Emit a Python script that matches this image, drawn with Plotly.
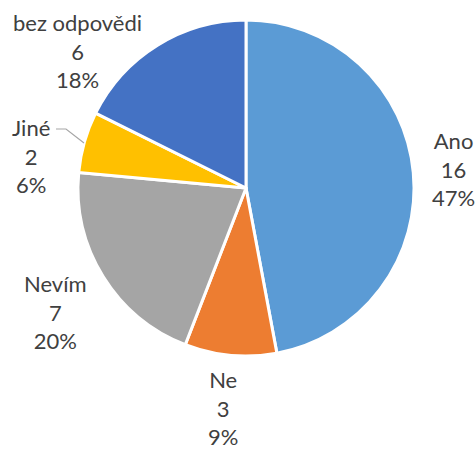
import plotly.graph_objects as go

categories = ["Ano", "Ne", "Nevím", "Jiné", "bez odpovědi"]
values = [16, 3, 7, 2, 6]
percent_labels = ["47%", "9%", "20%", "6%", "18%"]
colors = ["#5B9BD5", "#ED7D31", "#A5A5A5", "#FFC000", "#4472C4"]

W, H = 475, 452
cx, cy, r = 246, 188, 168

fig = go.Figure(go.Pie(
    labels=categories,
    values=values,
    sort=False,
    direction="clockwise",
    rotation=0,
    marker=dict(colors=colors, line=dict(color="white", width=3)),
    textinfo="none",
    hoverinfo="label+value+percent",
    showlegend=False,
    domain=dict(x=[(cx - r) / W, (cx + r) / W], y=[(H - cy - r) / H, (H - cy + r) / H]),
))

# label positions (pixel centres of each text block)
label_pos = [(453, 169), (223, 408), (55, 312), (31, 156), (77, 51)]
for cat, v, p, (lx, ly) in zip(categories, values, percent_labels, label_pos):
    fig.add_annotation(
        x=lx / W, y=1 - ly / H, xref="paper", yref="paper",
        text=f"{cat}<br>{v}<br>{p}", showarrow=False,
        xanchor="center", yanchor="middle", align="center",
        font=dict(family="Lato, Carlito, Calibri, sans-serif", size=22, color="#404040"),
    )

# leader line for Jiné
fig.add_shape(type="path", xref="paper", yref="paper",
              path=f"M {56/W},{1-129/H} L {66/W},{1-129/H} L {84/W},{1-143/H}",
              line=dict(color="#A6A6A6", width=1.2))

fig.update_layout(
    width=W, height=H,
    margin=dict(l=0, r=0, t=0, b=0),
    paper_bgcolor="white", plot_bgcolor="white",
)

fig.write_html("out.html",
               config={"displayModeBar": False},
               post_script="document.body.style.margin='0';document.body.style.overflow='hidden';")
